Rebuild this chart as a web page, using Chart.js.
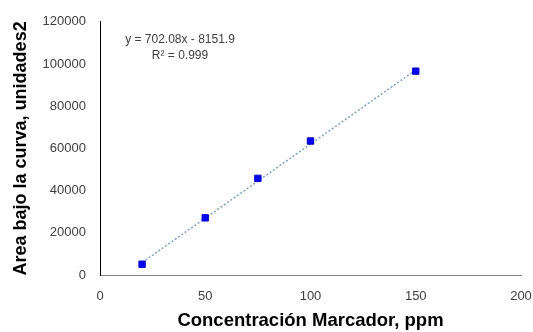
<!DOCTYPE html>
<html lang="es">
<head>
<meta charset="UTF-8">
<title>Curva de calibración</title>
<script src="https://cdn.jsdelivr.net/npm/chart.js"></script>
<style>
    html, body { margin: 0; padding: 0; background: #fff; }
    #wrap { width: 533px; height: 332px; }
</style>
</head>
<body>
<div id="wrap"><canvas id="calib" width="533" height="332"></canvas></div>
<script>
    // data
    const concentracion = [20, 50, 75, 100, 150];
    const area = [5100, 27100, 45800, 63500, 96600];
    // trendline ends (y = 702.08x - 8151.9)
    const trendX = [20, 150];
    const trendY = [5890, 97160];
    const ecuacion = 'y = 702.08x - 8151.9';
    const r2 = 'R² = 0.999';

    const labelFont = "'Liberation Sans', Arial, sans-serif";

    // equation text, placed like the spreadsheet label
    const eqLabel = {
        id: 'eqLabel',
        afterDraw(chart) {
            const ctx = chart.ctx;
            const a = chart.chartArea;
            ctx.save();
            ctx.font = '12px ' + labelFont;
            ctx.fillStyle = '#404040';
            ctx.textAlign = 'center';
            ctx.textBaseline = 'middle';
            ctx.fillText(ecuacion, a.left + 80, a.top + 18);
            ctx.fillText(r2, a.left + 80, a.top + 34);
            ctx.restore();
        }
    };

    new Chart(document.getElementById('calib'), {
        type: 'scatter',
        data: {
            datasets: [{
                label: 'Lineal',
                data: trendX.map((x, i) => ({x: x, y: trendY[i]})),
                showLine: true,
                borderColor: '#6fa8dc',
                borderWidth: 1.5,
                borderDash: [2, 2],
                pointRadius: 0,
                order: 2
            }, {
                label: 'Area',
                data: concentracion.map((x, i) => ({x: x, y: area[i]})),
                pointStyle: 'rect',
                pointRadius: 4.5,
                backgroundColor: '#0000ff',
                borderColor: '#0000ff',
                order: 1
            }]
        },
        options: {
            responsive: false,
            animation: false,
            layout: { padding: { top: 17, right: 0, left: 0, bottom: 0 } },
            plugins: { legend: { display: false }, tooltip: { enabled: false } },
            scales: {
                x: {
                    type: 'linear',
                    min: 0, max: 200,
                    ticks: { stepSize: 50, padding: 14, color: '#404040', font: { size: 13, family: labelFont } },
                    grid: { display: false, drawTicks: false },
                    border: { display: true, color: '#7f7f7f', width: 1 },
                    title: {
                        display: true,
                        text: 'Concentración Marcador, ppm',
                        color: '#000',
                        font: { size: 18.5, weight: 'bold', family: labelFont },
                        padding: { top: 0, bottom: 0 }
                    },
                    afterFit(s) { s.height = 57; s.paddingRight = 12; }
                },
                y: {
                    min: 0, max: 120000,
                    ticks: {
                        stepSize: 20000, padding: 14, color: '#404040',
                        font: { size: 13, family: labelFont },
                        callback: v => String(v)
                    },
                    grid: { display: false, drawTicks: false },
                    border: { display: true, color: '#000', width: 1 },
                    title: {
                        display: true,
                        text: 'Area bajo la curva, unidades2',
                        color: '#000',
                        font: { size: 18, weight: 'bold', family: labelFont },
                        padding: { top: 10, bottom: 0 }
                    },
                    afterFit(s) { s.width = 100; }
                }
            }
        },
        plugins: [eqLabel]
    });
</script>
</body>
</html>
